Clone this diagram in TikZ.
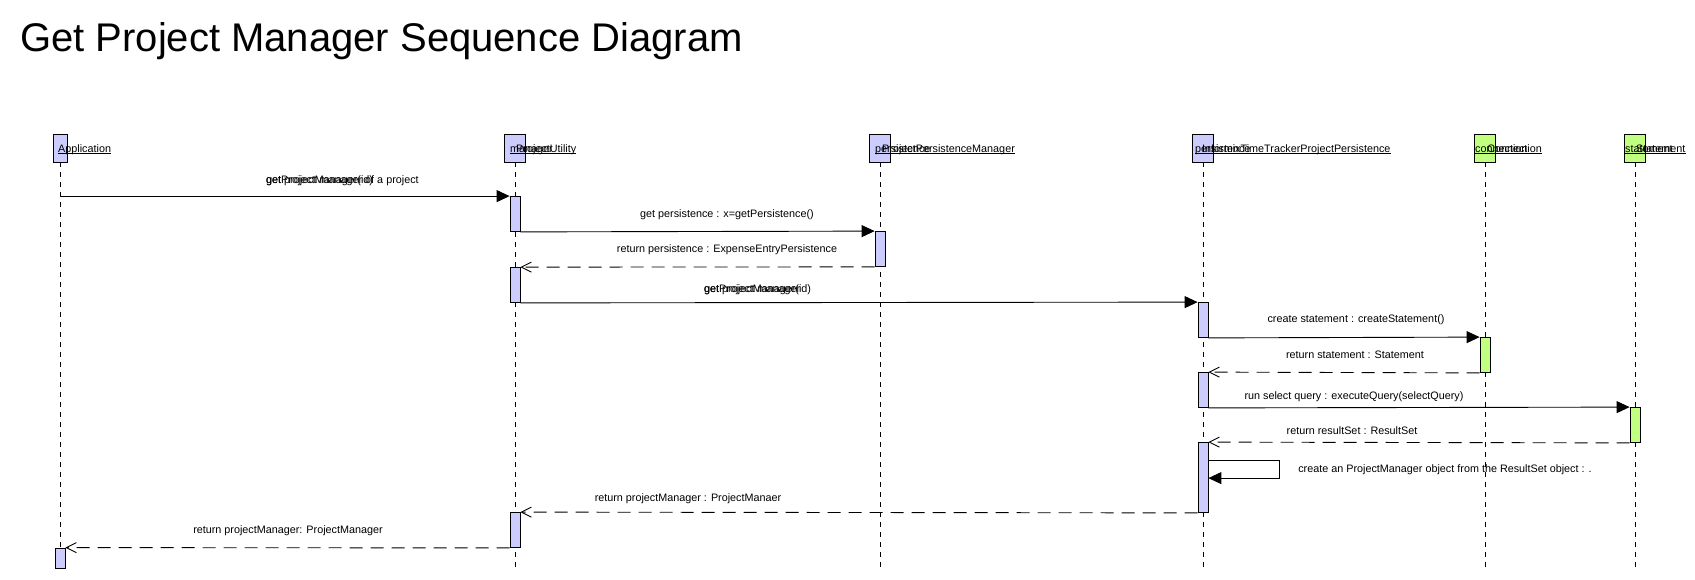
\documentclass[tikz,border=0pt]{standalone}
\usepackage{fontspec}
\setmainfont{Liberation Sans}
\usetikzlibrary{arrows.meta, positioning}
\definecolor{lifeblue}{RGB}{204,204,255}
\definecolor{lifegreen}{RGB}{192,255,128}
\tikzset{
    head/.style={rectangle, draw=black, line width=0.8pt, fill=lifeblue, minimum width=21pt, minimum height=28pt, inner sep=0pt},
    bar/.style={rectangle, draw=black, line width=0.8pt, fill=lifeblue, minimum width=10pt, minimum height=35pt, inner sep=0pt},
    lbl/.style={font=\fontsize{10.8}{13}\selectfont, inner sep=0pt},
    objname/.style={lbl, anchor=base west},
    lifeline/.style={line width=0.8pt, dash pattern=on 5pt off 5pt},
    call/.style={line width=0.9pt, -{Triangle[length=13pt, width=12pt]}},
    reply/.style={line width=0.9pt, dash pattern=on 13pt off 8pt, -{Straight Barb[length=10pt, width=10pt]}}
}
\begin{document}
\begin{tikzpicture}[x=1pt, y=-1pt]
    \fill[white] (0,0) rectangle (1695,579);
    \useasboundingbox (0,0) rectangle (1695,579);

    \node[font=\fontsize{40}{46}\selectfont, inner sep=0pt, anchor=base west] (title) at (20,51) {Get Project Manager Sequence Diagram};

    % object heads
    \node[head, minimum width=14pt] (appHead) at (60,148) {};
    \node[head] (mgrHead) at (515,148) {};
    \node[head] (ppmHead) at (880,148) {};
    \node[head] (itpHead) at (1203,148) {};
    \node[head, fill=lifegreen] (conHead) at (1485,148) {};
    \node[head, fill=lifegreen] (stmHead) at (1635,148) {};
    \coordinate (bottom) at (0,570);

    % lifelines
    \foreach \h in {appHead, mgrHead, ppmHead, itpHead, conHead, stmHead}
        \draw[lifeline] (\h.south) -- (\h.south |- bottom);

    \node[objname] (nApp) at (58,152) {Application};
    \node[objname] (nMgrA) at (510,152) {manager};
    \node[objname] (nMgrB) at (516,152) {ProjectUtility};
    \node[objname] (nPpmA) at (875,152) {persistence};
    \node[objname] (nPpmB) at (882,152) {ProjectPersistenceManager};
    \node[objname] (nItpA) at (1195,152) {persistence};
    \node[objname] (nItpB) at (1202,152) {InformixTimeTrackerProjectPersistence};
    \node[objname] (nConA) at (1475,152) {connection};
    \node[objname] (nConB) at (1487,152) {Connection};
    \node[objname] (nStmA) at (1625,152) {statement};
    \node[objname] (nStmB) at (1636,152) {Statement};
    \foreach \n in {nApp, nMgrA, nMgrB, nPpmA, nPpmB, nItpA, nItpB, nConA, nConB, nStmA, nStmB}
        \draw[line width=0.7pt] ([yshift=-1.5pt]\n.base west) -- ([yshift=-1.5pt]\n.base east);

    % activations
    \node[bar] (mbar1) at (515,214) {};
    \node[bar] (pbar) at (880,249) {};
    \node[bar] (mbar2) at (515,285) {};
    \node[bar] (ibar1) at (1203,320) {};
    \node[bar, fill=lifegreen] (cbar) at (1485,355) {};
    \node[bar] (ibar2) at (1203,390) {};
    \node[bar, fill=lifegreen] (sbar) at (1635,425) {};
    \node[bar, minimum height=70pt] (ibar3) at (1203,477.5) {};
    \node[bar] (mbar3) at (515,530) {};
    \node[bar, minimum height=20pt] (abar) at (60,558) {};

    % messages
    \draw[call] (appHead.south |- mbar1.north west) -- (mbar1.north west);
    \node[lbl, anchor=west] (m1a) at (266,181) {get project manager of a project};
    \node[lbl, anchor=west] (m1b) at (266,181) {getProjectManager(id)};

    \draw[call] (mbar1.south east) -- (pbar.north west);
    \node[lbl] (m2) at (727,215) {get persistence : x=getPersistence()};

    \draw[reply] (pbar.south west) -- (mbar2.north east);
    \node[lbl] (r2) at (727,250) {return persistence : ExpenseEntryPersistence};

    \draw[call] (mbar2.south east) -- (ibar1.north west);
    \node[lbl, anchor=west] (m4a) at (704,290) {get project manager};
    \node[lbl, anchor=west] (m4b) at (704,290) {getProjectManager(id)};

    \draw[call] (ibar1.south east) -- (cbar.north west);
    \node[lbl] (m5) at (1356,320) {create statement : createStatement()};

    \draw[reply] (cbar.south west) -- (ibar2.north east);
    \node[lbl] (r5) at (1355,355) {return statement : Statement};

    \draw[call] (ibar2.south east) -- (sbar.north west);
    \node[lbl] (m6) at (1354,397) {run select query : executeQuery(selectQuery)};

    \draw[reply] (sbar.south west) -- (ibar3.north east);
    \node[lbl] (r6) at (1352,431) {return resultSet : ResultSet};

    \draw[call] ([yshift=-18pt]ibar3.north east) -- ++(71,0) -- ++(0,18) -- ([yshift=-36pt]ibar3.north east);
    \node[lbl] (m7) at (1445,470) {create an ProjectManager object from the ResultSet object : .};

    \draw[reply] (ibar3.south west) -- (mbar3.north east);
    \node[lbl] (r4) at (688,499) {return projectManager : ProjectManaer};

    \draw[reply] (mbar3.south west) -- (abar.north east);
    \node[lbl] (r1) at (288,531) {return projectManager: ProjectManager};
\end{tikzpicture}
\end{document}
